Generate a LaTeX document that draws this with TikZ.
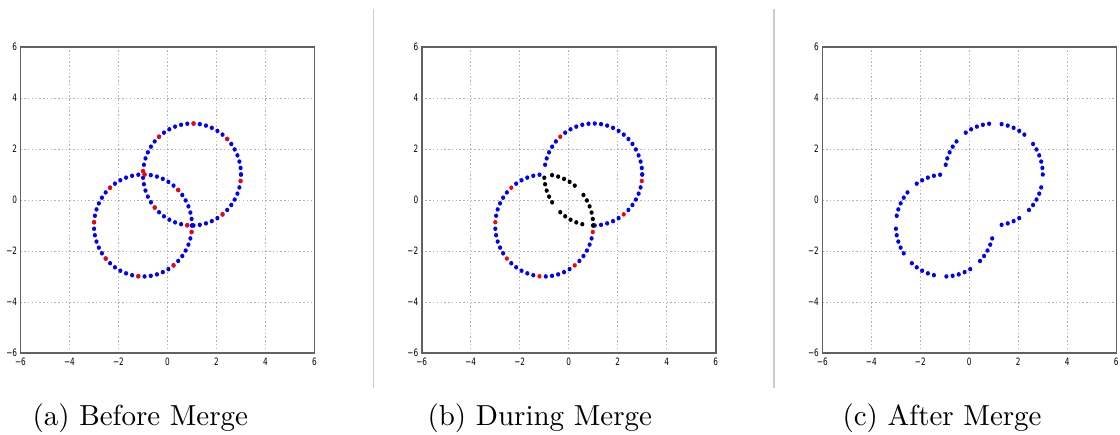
\documentclass[tikz,border=0pt]{standalone}
\usepackage{fontspec}
\newfontfamily\tickfont{DejaVu Sans}
\begin{document}
\begin{tikzpicture}[x=0.345pt,y=-0.345pt,
  frame/.style={draw=black!62, line width=0.55pt},
  gridline/.style={draw=black!30, line width=0.3pt, dash pattern=on 0.5pt off 0.8pt},
  sep/.style={draw=black!20, line width=0.35pt},
  ticklab/.style={font=\tickfont\fontsize{3.5}{3.8}\selectfont, inner sep=0pt},
  caption/.style={font=\fontsize{10}{12}\selectfont, anchor=base west, inner sep=0pt}]
\useasboundingbox (0,0) rectangle (1120,435);
\newcommand\ptdot[4]{\fill[#1] ({#2+2*cos(7.3469388*#4)},{#3+2*sin(7.3469388*#4)}) ellipse [x radius=0.72pt, y radius=0.78pt];}
\newcommand\axesbox{%
  \foreach \v in {-4,-2,0,2,4} {
    \draw[gridline] (\v,-6) -- (\v,6);
    \draw[gridline] (-6,\v) -- (6,\v);
  }
  \draw[frame] (-6,-6) rectangle (6,6);
  \foreach \v/\t in {-6/{−6},-4/{−4},-2/{−2},0/{0},2/{2},4/{4},6/{6}} {
    \node[ticklab, anchor=east, xshift=-1.0pt] at (-6,\v) {\scalebox{0.72}[1]{\t}};
    \node[ticklab, anchor=north, yshift=-1.4pt] at (\v,-6) {\scalebox{0.72}[1]{\t}};
  }
}
% separators
\coordinate (s1a) at (373.3,9); \coordinate (s1b) at (373.3,388);
\coordinate (s2a) at (774,9); \coordinate (s2b) at (774,388);
\draw[sep] (s1a) -- (s1b);
\draw[sep] (s2a) -- (s2b);
% ---------- panel (a)
\begin{scope}[shift={(167.5,200)}, x=8.4525pt, y=8.7975pt]
  \axesbox
  \foreach \k in {0,...,49} {\ptdot{blue}{1}{1}{\k}}
  \foreach \k in {0,...,49} {\ptdot{blue}{-1}{-1}{\k}}
  \foreach \k in {6,12,18,24,30,36,42,48} {\ptdot{red}{1}{1}{\k}}
  \foreach \k in {6,12,18,24,30,36,42,48} {\ptdot{red}{-1}{-1}{\k}}
\end{scope}
% ---------- panel (b)
\begin{scope}[shift={(568.7,200)}, x=8.4525pt, y=8.7975pt]
  \axesbox
  \foreach \k in {0,1,2,3,4,5,6,7,8,9,10,11,12,13,14,15,16,17,19,20,21,22,23,37,38,39,40,41,43,44,45,46,47,49} {\ptdot{blue}{1}{1}{\k}}
  \foreach \k in {18,42,48} {\ptdot{red}{1}{1}{\k}}
  \foreach \k in {25,26,27,28,29,31,32,33,34,35} {\ptdot{black}{1}{1}{\k}}
  \foreach \k in {13,14,15,16,17,19,20,21,22,23,25,26,27,28,29,31,32,33,34,35,37,38,39,40,41,43,44,45,46,47} {\ptdot{blue}{-1}{-1}{\k}}
  \foreach \k in {18,24,30,36,42,48} {\ptdot{red}{-1}{-1}{\k}}
  \foreach \k in {0,1,2,3,4,5,7,8,9,10,11,49} {\ptdot{black}{-1}{-1}{\k}}
\end{scope}
% ---------- panel (c)
\begin{scope}[shift={(969.3,200)}, x=8.4525pt, y=8.7975pt]
  \axesbox
  \foreach \k in {0,1,2,3,4,5,7,8,9,10,11,13,14,15,16,17,19,20,21,22,23,38,39,40,41,43,44,45,46,47} {\ptdot{blue}{1}{1}{\k}}
  \foreach \k in {13,14,15,16,17,19,20,21,22,23,25,26,27,28,29,31,32,33,34,35,37,38,39,40,41,43,44,45,46,47} {\ptdot{blue}{-1}{-1}{\k}}
\end{scope}
% captions
\node[caption] (capa) at (32,426) {(a) Before Merge};
\node[caption] (capb) at (427,426) {(b) During Merge};
\node[caption] (capc) at (842,426) {(c) After Merge};
\end{tikzpicture}
\end{document}
